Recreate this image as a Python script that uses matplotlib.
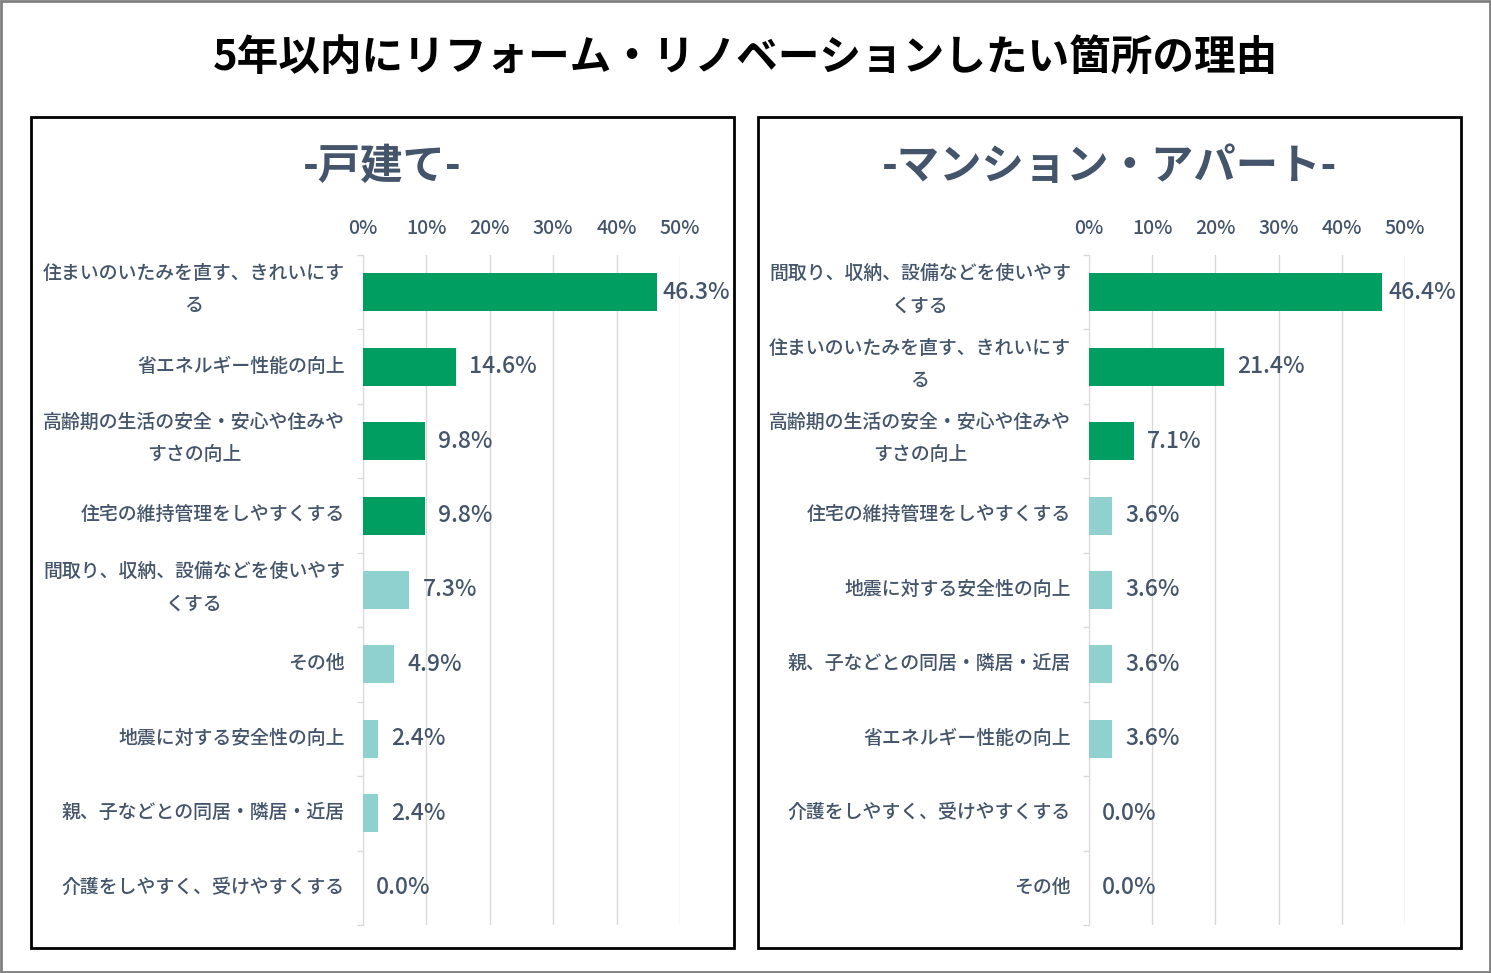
import matplotlib.pyplot as plt
import matplotlib.patches as patches
import numpy as np

plt.rcParams['font.family'] = ['Noto Sans CJK JP', 'DejaVu Sans']

title = "5年以内にリフォーム・リノベーションしたい箇所の理由"

# 戸建て
house_labels = ["住まいのいたみを直す、きれいにす\nる", "省エネルギー性能の向上",
                "高齢期の生活の安全・安心や住みや\nすさの向上", "住宅の維持管理をしやすくする",
                "間取り、収納、設備などを使いやす\nくする", "その他",
                "地震に対する安全性の向上", "親、子などとの同居・隣居・近居",
                "介護をしやすく、受けやすくする"]
house_values = [46.3, 14.6, 9.8, 9.8, 7.3, 4.9, 2.4, 2.4, 0.0]

# マンション・アパート
apt_labels = ["間取り、収納、設備などを使いやす\nくする", "住まいのいたみを直す、きれいにす\nる",
              "高齢期の生活の安全・安心や住みや\nすさの向上", "住宅の維持管理をしやすくする",
              "地震に対する安全性の向上", "親、子などとの同居・隣居・近居",
              "省エネルギー性能の向上", "介護をしやすく、受けやすくする", "その他"]
apt_values = [46.4, 21.4, 7.1, 3.6, 3.6, 3.6, 3.6, 0.0, 0.0]

panel_titles = ["-戸建て-", "-マンション・アパート-"]
n_dark = [4, 3]
xticks = [0, 10, 20, 30, 40, 50]

DARK = "#009E60"
LIGHT = "#8ED1CF"
TXT = "#44546A"
GRID = "#D9D9D9"

W, H = 1491, 973
fig = plt.figure(figsize=(W / 100, H / 100), dpi=100)

# outer border
fig.patches.append(patches.Rectangle((0.001, 0.001), 0.998, 0.998, transform=fig.transFigure,
                                     fill=False, edgecolor="#808080", linewidth=2))
fig.text(745 / W, 1 - 58 / H, title, ha="center", va="center", fontsize=30,
         fontweight="bold", color="black")

panels = [(31, 734), (758, 1461)]
axes_x = [(363, 680), (1089, 1405)]
data = [(house_labels, house_values), (apt_labels, apt_values)]

for k in range(2):
    px0, px1 = panels[k]
    fig.patches.append(patches.Rectangle((px0 / W, 1 - 948 / H), (px1 - px0) / W, (948 - 117) / H,
                                         transform=fig.transFigure, fill=False,
                                         edgecolor="black", linewidth=2))
    fig.text((px0 + px1) / 2 / W, 1 - 167 / H, panel_titles[k], ha="center", va="center",
             fontsize=30.5, fontweight="bold", color=TXT)

    labels, values = data[k]
    ax0, ax1 = axes_x[k]
    ax = fig.add_axes([ax0 / W, 1 - 925 / H, (ax1 - ax0) / W, (925 - 255) / H])
    y = np.arange(len(values))
    colors = [DARK if i < n_dark[k] else LIGHT for i in range(len(values))]
    ax.barh(y, values, height=0.51, color=colors, zorder=3)
    ax.set_xlim(0, 50)
    ax.set_ylim(len(values) - 0.5, -0.5)
    ax.set_xticks(xticks)
    ax.set_xticklabels([f"{t}%" for t in xticks], fontsize=14, color=TXT, fontweight="medium")
    ax.xaxis.tick_top()
    ax.tick_params(axis="x", length=0, pad=12)
    ax.grid(axis="x", color=GRID, linewidth=1, zorder=0)
    ax.set_yticks(y)
    ax.set_yticklabels([])
    ax.set_yticks(np.arange(len(values) + 1) - 0.5, minor=True)
    ax.tick_params(axis="y", which="major", length=0)
    ax.tick_params(axis="y", which="minor", length=4.5, color=GRID, width=1)
    for s in ["top", "right", "bottom"]:
        ax.spines[s].set_visible(False)
    ax.spines["left"].set_color(GRID)

    # category labels
    ytrans = ax.get_yaxis_transform()
    for i, lab in enumerate(labels):
        dy = 2 if "\n" in lab else 0.8
        ax.annotate(lab, (0, i), xycoords=ytrans, xytext=(-13, dy), textcoords="offset points",
                    ha="right", va="center", multialignment="center", linespacing=1.75,
                    fontsize=13.6, color=TXT, fontweight="medium", annotation_clip=False)

    for i, v in enumerate(values):
        off = 4.5 if v > 40 else 9.5
        ax.annotate(f"{v:.1f}%", (v, i), xytext=(off, 0), textcoords="offset points",
                    ha="left", va="center", fontsize=16.5, color=TXT, fontweight="medium",
                    annotation_clip=False)

fig.savefig("out.png", dpi=100)
